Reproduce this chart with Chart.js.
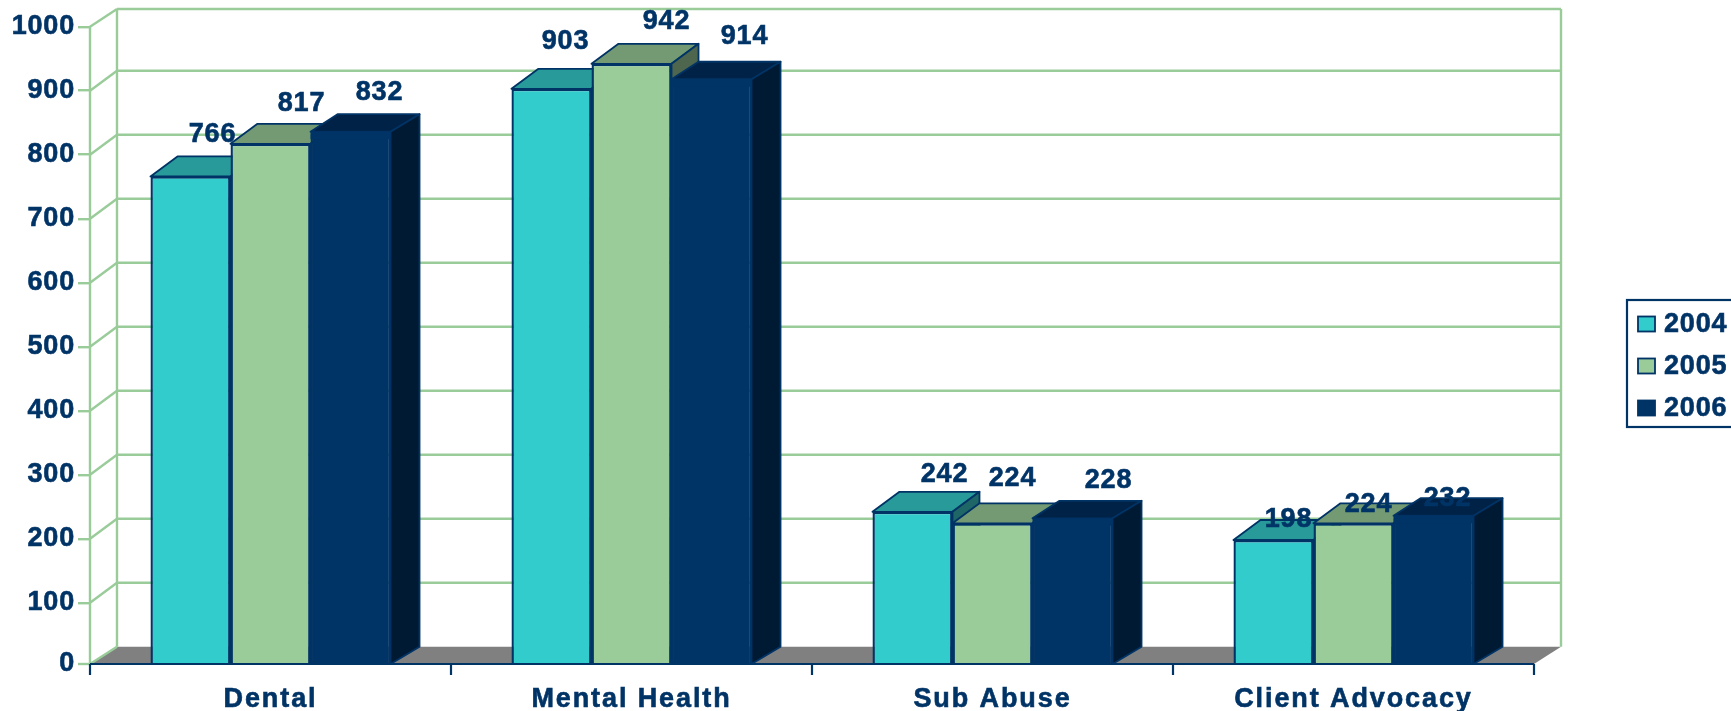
<!DOCTYPE html>
<html>
<head>
<meta charset="utf-8">
<script src="https://cdn.jsdelivr.net/npm/chart.js@4/dist/chart.umd.min.js"></script>
<style>
html,body{margin:0;padding:0;background:#fff;overflow:hidden}
canvas{display:block}
</style>
</head>
<body>
<canvas id="c" width="1731" height="711"></canvas>
<script>
const categories = ['Dental', 'Mental Health', 'Sub Abuse', 'Client Advocacy'];
const seriesNames = ['2004', '2005', '2006'];
const values2004 = [766, 903, 242, 198];
const values2005 = [817, 942, 224, 224];
const values2006 = [832, 914, 228, 232];

// Layout of the hand-placed value labels, relative to each bar's top centre
const labelNudge = [
  [[22, -42], [14, -47], [32, -37], [15, -20]],
  [[31, -40], [35, -42], [20, -45], [15, -19]],
  [[29, -42], [33, -45], [36, -40], [14, -20]]
];

const NAVY = '#003366', GREEN = '#99CC99', TEAL = '#33CCCC';
const FILL = [TEAL, GREEN, NAVY];
const TOPS = ['#289A9A', '#739A73', '#002246'];
const SIDES = ['#1F6666', '#4D664D', '#001A33'];
const FONT = { family: '"Liberation Sans", Arial, sans-serif', size: 27, weight: 'bold' };
const FONTSTR = 'bold 27px "Liberation Sans", Arial, sans-serif';
const TEXT_STROKE = 0.6;
const DX = 27, DY = 20, FRONT_CUT = 2.7, TOP_BACK = 9, WALL = 2.4;
// the 2006 block is drawn slightly proud of the other two in the reference
const FRONT_LIFT = [0, 0, 2.5], SIDE_EXTRA = [0, 0, 2];

function poly(ctx, pts, fill, stroke) {
  ctx.beginPath();
  pts.forEach((p, i) => i ? ctx.lineTo(p[0], p[1]) : ctx.moveTo(p[0], p[1]));
  ctx.closePath();
  ctx.fillStyle = fill;
  ctx.fill();
  if (stroke) {
    ctx.strokeStyle = stroke;
    ctx.lineWidth = 1.8;
    ctx.lineJoin = 'round';
    ctx.stroke();
  }
}
function line(ctx, x1, y1, x2, y2, color, w) {
  ctx.beginPath();
  ctx.moveTo(x1, y1);
  ctx.lineTo(x2, y2);
  ctx.strokeStyle = color;
  ctx.lineWidth = w;
  ctx.stroke();
}
function boldText(ctx, txt, x, y) {
  ctx.lineWidth = TEXT_STROKE;
  ctx.strokeStyle = NAVY;
  ctx.strokeText(txt, x, y);
  ctx.fillText(txt, x, y);
}

const scene3d = {
  id: 'scene3d',
  afterLayout(chart) {
    // the zero label sits on the visible front edge of the floor
    const items = chart.scales.y.getLabelItems();
    items.forEach(it => { if (it.label === '0' || it.label === 0) it.options.translation[1] -= FRONT_CUT; });
    // category labels are spaced a little wider than the numbers
    const xs = chart.scales.x;
    if (!xs._spaced) {
      xs._spaced = true;
      const orig = xs.drawLabels;
      xs.drawLabels = function (area) {
        chart.ctx.letterSpacing = '1.9px';
        orig.call(this, area);
        chart.ctx.letterSpacing = '0.8px';
      };
    }
  },
  beforeDraw(chart) {
    chart.ctx.letterSpacing = '0.8px';
  },
  beforeDatasetsDraw(chart) {
    const ctx = chart.ctx, y = chart.scales.y, a = chart.chartArea;
    const zero = y.getPixelForValue(0), front = zero - FRONT_CUT, back = zero - DY;
    const L = a.left, R = a.right;
    ctx.save();
    // floor
    poly(ctx, [[L, front], [L + DX, back], [R + DX, back], [R, front]], '#808080');
    // walls
    y.ticks.forEach(t => {
      const p = y.getPixelForValue(t.value);
      if (t.value === 0) return;
      const by = t.value === y.max ? TOP_BACK : p - DY;
      line(ctx, L, p, L + DX, by, GREEN, WALL);
      line(ctx, L + DX, by, R + DX, by, GREEN, WALL);
    });
    line(ctx, L, y.getPixelForValue(y.max), L, front, GREEN, WALL);
    line(ctx, L + DX, TOP_BACK, L + DX, back, GREEN, WALL);
    line(ctx, R + DX, TOP_BACK, R + DX, back, GREEN, WALL);
    line(ctx, L, front, L + DX, back, GREEN, WALL);
    line(ctx, L - 12, front, L, front, GREEN, WALL);

    // bars, left to right so each covers its neighbour's side
    ctx.beginPath();
    ctx.rect(0, 0, chart.width, front + 1);
    ctx.clip();
    categories.forEach((_, c) => {
      seriesNames.forEach((_, s) => {
        const el = chart.getDatasetMeta(s).data[c];
        const x0 = el.x - el.width / 2, x1 = el.x + el.width / 2, t = el.y;
        const ft = t - FRONT_LIFT[s], bx = x1 + DX + SIDE_EXTRA[s];
        poly(ctx, [[x0, ft], [x0 + DX, t - DY], [bx, t - DY], [x1, ft]], TOPS[s], NAVY);
        poly(ctx, [[x1, ft], [bx, t - DY], [bx, back], [x1, front]], SIDES[s], NAVY);
        el.draw(ctx);
        if (FRONT_LIFT[s]) {
          ctx.fillStyle = FILL[s];
          ctx.fillRect(x0, ft, el.width, FRONT_LIFT[s] + 5);
        }
      });
    });
    ctx.restore();

    // front axis line with category ticks
    ctx.save();
    line(ctx, L, front, R, front, NAVY, 2.2);
    for (let i = 0; i <= categories.length; i++) {
      const px = L + (R - L) * i / categories.length;
      line(ctx, px, front, px, front + 11, NAVY, 2.2);
    }
    ctx.restore();
  },
  beforeDatasetDraw() {
    return false; // bars are painted above, in depth order
  },
  afterDatasetsDraw(chart) {
    const ctx = chart.ctx;
    ctx.save();
    ctx.font = FONTSTR;
    ctx.fillStyle = NAVY;
    ctx.textAlign = 'center';
    ctx.textBaseline = 'middle';
    chart.data.datasets.forEach((ds, s) => {
      chart.getDatasetMeta(s).data.forEach((el, c) => {
        const n = labelNudge[s][c];
        boldText(ctx, String(ds.data[c]), el.x + n[0], el.y + n[1]);
      });
    });
    ctx.restore();
  },
  afterDraw(chart) {
    const ctx = chart.ctx;
    ctx.save();
    ctx.strokeStyle = NAVY;
    ctx.lineWidth = 2.2;
    ctx.strokeRect(1627, 300, 120, 127);
    ctx.font = FONTSTR;
    ctx.textAlign = 'left';
    ctx.textBaseline = 'middle';
    chart.data.datasets.forEach((ds, s) => {
      const cy = 324 + s * 42;
      ctx.fillStyle = FILL[s];
      ctx.fillRect(1638, cy - 7.5, 17, 15);
      ctx.strokeStyle = NAVY;
      ctx.lineWidth = 1.8;
      ctx.strokeRect(1638, cy - 7.5, 17, 15);
      ctx.fillStyle = NAVY;
      boldText(ctx, ds.label, 1664, cy + 1);
    });
    ctx.restore();
  }
};

const seriesValues = [values2004, values2005, values2006];
new Chart(document.getElementById('c'), {
  type: 'bar',
  data: {
    labels: categories,
    datasets: seriesNames.map((n, s) => ({
      label: n,
      data: seriesValues[s],
      backgroundColor: FILL[s],
      borderColor: NAVY,
      borderWidth: 2.4,
      borderSkipped: false
    }))
  },
  options: {
    responsive: false,
    animation: false,
    layout: { padding: { left: 0, right: 197, top: 26.7, bottom: 0 } },
    categoryPercentage: 0.665,
    barPercentage: 1,
    plugins: { legend: { display: false }, tooltip: { enabled: false } },
    scales: {
      x: {
        offset: true,
        grid: { display: false },
        border: { display: false },
        ticks: { color: NAVY, font: FONT, padding: 9, maxRotation: 0, autoSkip: false,
                  textStrokeColor: NAVY, textStrokeWidth: TEXT_STROKE },
        afterFit(s) { s.height = 44.3; }
      },
      y: {
        min: 0,
        max: 1000,
        grid: {
          drawOnChartArea: false,
          drawTicks: true,
          tickLength: 12,
          lineWidth: WALL,
          color: c => (c.tick && c.tick.value === 0 ? 'rgba(0,0,0,0)' : GREEN)
        },
        border: { display: false },
        ticks: { color: NAVY, font: FONT, stepSize: 100, padding: 3, autoSkip: false,
                 textStrokeColor: NAVY, textStrokeWidth: TEXT_STROKE,
                 callback: v => String(v) },
        afterFit(s) { s.width = 90; }
      }
    }
  },
  plugins: [scene3d]
});
</script>
</body>
</html>
